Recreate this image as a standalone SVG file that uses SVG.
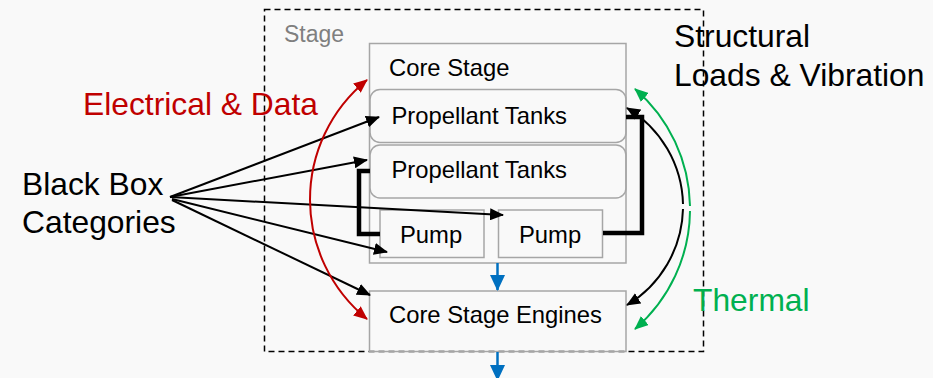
<svg xmlns="http://www.w3.org/2000/svg" width="933" height="378" viewBox="0 0 933 378">
<defs>
<style>
text{font-family:"Liberation Sans",Arial,sans-serif}
.big{font-size:31.8px}
.mid{font-size:23.8px;fill:#000}
.box{fill:none;stroke:#a6a6a6;stroke-width:1.5}
.pipe{fill:none;stroke:#000;stroke-width:4.5}
.blk{fill:none;stroke:#000;stroke-width:2}
</style>
<marker id="ab" viewBox="0 0 14 12" refX="13" refY="6" markerWidth="14" markerHeight="12" markerUnits="userSpaceOnUse" orient="auto"><path d="M0,0L14,6L0,12z" fill="#000"/></marker>
<marker id="ar" viewBox="0 0 14 12" refX="13" refY="6" markerWidth="14" markerHeight="12" markerUnits="userSpaceOnUse" orient="auto"><path d="M0,0L14,6L0,12z" fill="#c00000"/></marker>
<marker id="ag" viewBox="0 0 14 12" refX="13" refY="6" markerWidth="14" markerHeight="12" markerUnits="userSpaceOnUse" orient="auto"><path d="M0,0L14,6L0,12z" fill="#00b050"/></marker>
<marker id="abl" viewBox="0 0 16 15" refX="15" refY="7.5" markerWidth="16" markerHeight="15" markerUnits="userSpaceOnUse" orient="auto"><path d="M0,0L16,7.5L0,15z" fill="#0070c0"/></marker>
</defs>
<rect width="933" height="378" fill="#f9f9f9"/>
<g id="stage">
<rect x="264.5" y="9.5" width="439" height="342" fill="none" stroke="#000" stroke-width="1.5" stroke-dasharray="6,4"/>
<text x="284" y="42" style="font-size:23px;fill:#7f7f7f">Stage</text>
</g>
<g id="core-stage">
<rect class="box" x="369.5" y="43.5" width="256.5" height="219.5"/>
<text class="mid" x="389" y="76">Core Stage</text>
</g>
<g id="prop-tanks-1">
<rect class="box" x="370" y="89.5" width="256" height="53" rx="10"/>
<text class="mid" x="391.5" y="124">Propellant Tanks</text>
</g>
<g id="prop-tanks-2">
<rect class="box" x="370" y="145" width="256" height="53" rx="10"/>
<text class="mid" x="391.5" y="178">Propellant Tanks</text>
</g>
<g id="pump-1">
<rect class="box" x="380" y="210" width="104" height="47.5"/>
<text class="mid" x="400" y="243">Pump</text>
</g>
<g id="pump-2">
<rect class="box" x="498.5" y="210" width="104" height="47.5"/>
<text class="mid" x="519" y="243">Pump</text>
</g>
<g id="engines">
<rect class="box" x="369.5" y="291" width="256.5" height="60.5"/>
<text class="mid" x="389" y="323">Core Stage Engines</text>
</g>
<g id="labels">
<text class="big" x="83" y="115" fill="#c00000">Electrical &amp; Data</text>
<text class="big" x="22" y="195" fill="#000">Black Box</text>
<text class="big" x="22" y="233" fill="#000">Categories</text>
<text class="big" x="674" y="47" fill="#000">Structural</text>
<text class="big" x="674" y="86" fill="#000">Loads &amp; Vibration</text>
<text class="big" x="693" y="311" fill="#00b050">Thermal</text>
</g>
<g id="connectors">
<path class="pipe" d="M626,117H642V233H603"/>
<path class="pipe" d="M370,171H359V234H380"/>
<path class="blk" d="M170,197L379,117" marker-end="url(#ab)"/>
<path class="blk" d="M170,197L367,160" marker-end="url(#ab)"/>
<path class="blk" d="M170,197L503,215" marker-end="url(#ab)"/>
<path class="blk" d="M172,199L387,252" marker-end="url(#ab)"/>
<path class="blk" d="M172,200L370,295" marker-end="url(#ab)"/>
<path d="M310,200A154,154 0 0 1 367,80" fill="none" stroke="#c00000" stroke-width="2" marker-end="url(#ar)"/>
<path d="M310,200A154,154 0 0 0 367,319" fill="none" stroke="#c00000" stroke-width="2" marker-end="url(#ar)"/>
<path class="blk" d="M683,204A115.5,115.5 0 0 0 627,108" marker-end="url(#ab)"/>
<path class="blk" d="M683,209A115.5,115.5 0 0 1 627,305" marker-end="url(#ab)"/>
<path d="M690,206A158,158 0 0 0 635,89" fill="none" stroke="#00b050" stroke-width="2" marker-end="url(#ag)"/>
<path d="M690,211A158,158 0 0 1 635,329" fill="none" stroke="#00b050" stroke-width="2" marker-end="url(#ag)"/>
<path d="M497.5,263V290" stroke="#0070c0" stroke-width="2.5" marker-end="url(#abl)"/>
<path d="M497.5,352V380" stroke="#0070c0" stroke-width="2.5" marker-end="url(#abl)"/>
</g>
</svg>
